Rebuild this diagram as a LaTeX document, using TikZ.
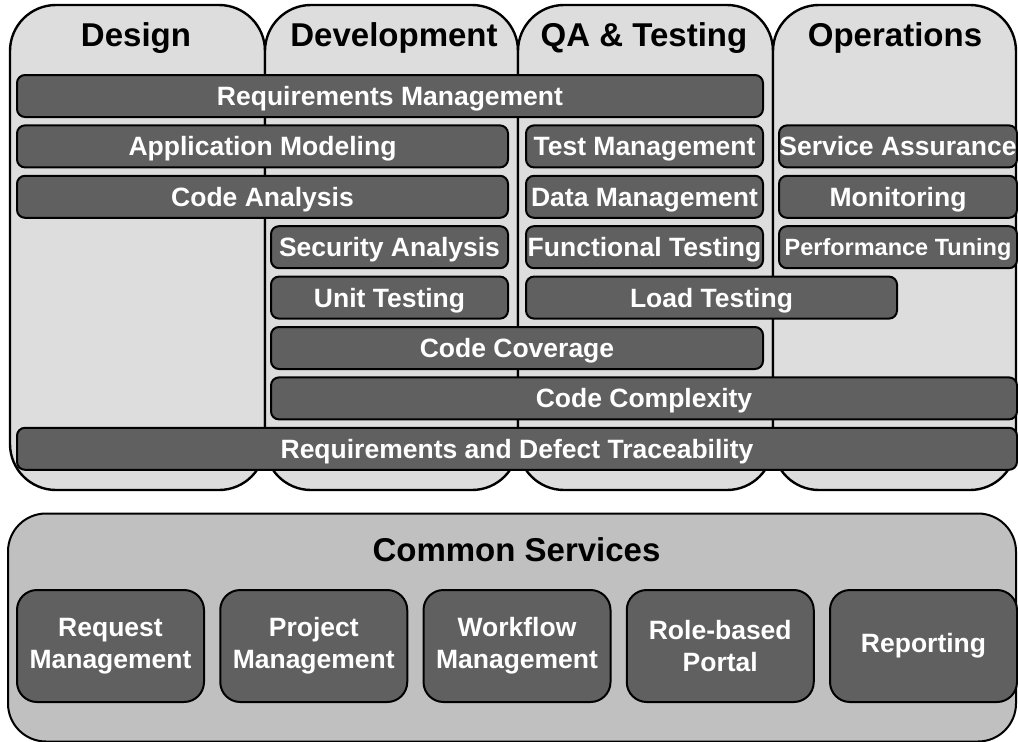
\documentclass[tikz,border=0pt]{standalone}
\usepackage{fontspec}
\setmainfont{Liberation Sans}

\definecolor{phaseFill}{HTML}{DDDDDD}
\definecolor{taskFill}{HTML}{606060}
\definecolor{commonFill}{HTML}{C0C0C0}

\tikzset{
    phase/.style={draw, line width=2.4pt, fill=phaseFill, rounded corners=46pt,
        minimum width=#1, minimum height=485pt, inner sep=0pt},
    phasetitle/.style={font=\fontsize{33}{39}\selectfont\bfseries},
    task/.style={draw, line width=2pt, fill=taskFill, rounded corners=8pt,
        minimum width=#1, minimum height=42pt, inner sep=0pt,
        text height=19pt, text depth=0pt,
        text=white, font=\fontsize{26.5}{31}\selectfont\bfseries},
    service/.style={draw, line width=2pt, fill=taskFill, rounded corners=20pt,
        minimum width=187pt, minimum height=112pt, inner sep=0pt, align=center,
        text=white, font=\fontsize{26.5}{32}\selectfont\bfseries}
}

\begin{document}
\begin{tikzpicture}[x=1pt, y=-1pt]
    \useasboundingbox (0,0) rectangle (1018,742);

    % the four phases
    \node[phase=255pt] (design) at (137.5,247.5) {};
    \node[phase=253pt] (develop) at (391.5,247.5) {};
    \node[phase=255pt] (qa) at (645.5,247.5) {};
    \node[phase=243pt] (ops) at (894.5,247.5) {};

    \node[phasetitle] (designTitle) at (136,38) {Design};
    \node[phasetitle] (developTitle) at (394,38) {Development};
    \node[phasetitle] (qaTitle) at (644,38) {QA \& Testing};
    \node[phasetitle] (opsTitle) at (895,38) {Operations};

    % tasks, row by row
    \node[task=746pt] (reqMgmt) at (390,96) {Requirements Management};

    \node[task=491pt] (appModel) at (262.5,146.4) {Application Modeling};
    \node[task=237pt] (testMgmt) at (644.5,146.4) {Test Management};
    \node[task=238pt] (svcAssur) at (898,146.4) {Service Assurance};

    \node[task=491pt] (codeAnalysis) at (262.5,196.8) {Code Analysis};
    \node[task=237pt] (dataMgmt) at (644.5,196.8) {Data Management};
    \node[task=238pt] (monitoring) at (898,196.8) {Monitoring};

    \node[task=237pt] (secAnalysis) at (389.5,247.2) {Security Analysis};
    \node[task=237pt] (funcTest) at (644.5,247.2) {Functional Testing};
    \node[task=238pt, text height=17pt, font=\fontsize{23.5}{28}\selectfont\bfseries] (perfTuning) at (898,247.2) {Performance Tuning};

    \node[task=237pt] (unitTest) at (389.5,297.6) {Unit Testing};
    \node[task=371pt] (loadTest) at (711.5,297.6) {Load Testing};

    \node[task=492pt] (codeCoverage) at (517,348) {Code Coverage};
    \node[task=746pt] (codeComplexity) at (644,398.4) {Code Complexity};
    \node[task=1000pt] (traceability) at (517,448.8) {Requirements and Defect Traceability};

    % common services
    \node[draw, line width=2pt, fill=commonFill, rounded corners=38pt,
        minimum width=1008pt, minimum height=228pt] (common) at (512,627.5) {};
    \node[phasetitle] (commonTitle) at (516.5,550) {Common Services};

    \foreach \i/\name/\txt in {0/request/{Request\\Management},
                               1/project/{Project\\Management},
                               2/workflow/{Workflow\\Management},
                               3/portal/{Role-based\\Portal},
                               4/reporting/{Reporting}}
        \node[service] (\name) at (110.5+203.25*\i,646) {\txt};
\end{tikzpicture}
\end{document}
